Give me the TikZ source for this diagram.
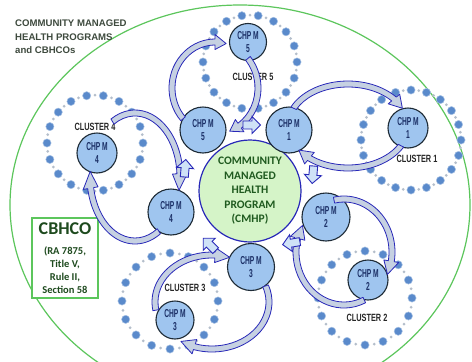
\documentclass[tikz,border=0pt]{standalone}
\usepackage{fontspec}
\setmainfont{Carlito}
\newfontfamily\titlefont{Liberation Sans}
\newfontfamily\condfont[FakeStretch=0.58]{Liberation Sans}
\newfontfamily\labfont[FakeStretch=0.7]{Liberation Sans}

\definecolor{hgreen}{HTML}{5CC65C}
\definecolor{titlegray}{HTML}{3E4A3E}
\definecolor{cmhpfill}{HTML}{D5F4C8}
\definecolor{cmhptext}{HTML}{1F5A1F}
\definecolor{navy}{HTML}{2828B8}
\definecolor{chpfill}{HTML}{9FC5EF}
\definecolor{chpline}{HTML}{1E2B36}
\definecolor{chptext}{HTML}{1B2F66}
\definecolor{bandfill}{HTML}{C6D1E2}
\definecolor{dotblue}{HTML}{5A8ACB}
\definecolor{dotrim}{HTML}{A7C1E4}
\definecolor{dotgray}{HTML}{B4BECB}
\definecolor{arrowfill}{HTML}{CFE2F7}
\definecolor{boxtext}{HTML}{1E4A1E}

\tikzset{
  chp/.style={circle, draw=chpline, line width=1.1pt, fill=chpfill, text=chptext,
    font=\condfont\bfseries\fontsize{11.5}{12.5}\selectfont, align=center, inner sep=0pt},
  clusterlbl/.style={text=black!85, font=\labfont\bfseries\fontsize{10.5}{12}\selectfont, inner sep=0pt},
  band/.style={draw=navy, line width=0.8pt, fill=bandfill, line join=round},
  arrowsm/.style={draw=navy, line width=0.9pt, fill=arrowfill, line join=miter},
}

% ring of member dots around a cluster: centre x, centre y, radius, count
\newcommand\dotring[4]{%
  \foreach \k in {1,...,#4}{%
    \fill[dotgray] ({#1+#3*cos(360/#4*(\k+0.5))},{#2+#3*sin(360/#4*(\k+0.5))}) circle (1.5);
    \filldraw[fill=dotblue, draw=dotrim, line width=0.5pt]
      ({#1+#3*cos(360/#4*\k)},{#2+#3*sin(360/#4*\k)}) circle (4.1);
  }}

% curved block arrow on an ellipse: cx, cy, rx, ry, tail angle, tip angle
\newcommand\loopband[6]{%
  \pgfmathsetmacro\hbase{#6-15}%
  \pgfmathsetmacro\rxo{#3+3}\pgfmathsetmacro\ryo{#4+3}%
  \pgfmathsetmacro\rxi{#3-3}\pgfmathsetmacro\ryi{#4-3}%
  \coordinate (bt1) at ({#1+(#3+3)*cos(#5)},{#2+(#4+3)*sin(#5)});
  \coordinate (bh1) at ({#1+(#3+7.5)*cos(\hbase)},{#2+(#4+7.5)*sin(\hbase)});
  \coordinate (btip) at ({#1+#3*cos(#6)},{#2+#4*sin(#6)});
  \coordinate (bh2) at ({#1+(#3-7.5)*cos(\hbase)},{#2+(#4-7.5)*sin(\hbase)});
  \coordinate (bt2) at ({#1+(#3-3)*cos(\hbase)},{#2+(#4-3)*sin(\hbase)});
  \draw[band] (bt1) arc[start angle=#5, end angle=\hbase, x radius=\rxo, y radius=\ryo]
    -- (bh1) -- (btip) -- (bh2) -- (bt2)
    arc[start angle=\hbase, end angle=#5, x radius=\rxi, y radius=\ryi] -- cycle;
}

% short straight block arrow: x, y, direction
\newcommand\smallarrow[3]{%
  \draw[arrowsm, shift={(#1,#2)}, rotate=#3]
    (-8,-4) -- (1,-4) -- (1,-8.5) -- (9.5,0) -- (1,8.5) -- (1,4) -- (-8,4) -- cycle;
}

\begin{document}
\begin{tikzpicture}[x=1pt,y=-1pt]
\useasboundingbox (0,0) rectangle (472,362);
\fill[white] (0,0) rectangle (472,362);

% outer boundary
\draw[hgreen, line width=1.2pt] (240,205) ellipse [x radius=230, y radius=200];

% heading
\node[anchor=north west, align=left, text=titlegray, inner sep=0pt,
  font=\titlefont\bfseries\fontsize{9.6}{13.5}\selectfont] (title) at (15,20)
  {COMMUNITY MANAGED\\HEALTH PROGRAMS\\and CBHCOs};

% legal basis box
\node[draw=hgreen, line width=1.2pt, fill=white, minimum width=66pt, minimum height=80pt,
  align=center, text=boxtext, inner sep=0pt,
  font=\bfseries\fontsize{10.5}{13}\selectfont] (cbhco) at (65,258)
  {{\fontsize{18}{20}\selectfont CBHCO}\\[7pt](RA 7875,\\Title V,\\Rule II,\\Section 58};

% member rings
\dotring{250}{62}{47}{18}
\dotring{411}{140}{50}{20}
\dotring{365}{298}{47}{16}
\dotring{170}{301}{48}{16}
\dotring{95}{143}{48}{18}

% cluster names
\node[clusterlbl] (l5) at (253,77) {CLUSTER 5};
\node[clusterlbl] (l1) at (417,159) {CLUSTER 1};
\node[clusterlbl] (l2) at (367,318) {CLUSTER 2};
\node[clusterlbl] (l3) at (185,288) {CLUSTER 3};
\node[clusterlbl] (l4) at (95,127) {CLUSTER 4};

% central programme
\node[circle, draw=navy, line width=1.2pt, fill=cmhpfill, minimum size=102pt, align=center,
  text=cmhptext, inner sep=0pt, font=\bfseries\fontsize{11.5}{14.5}\selectfont]
  (cmhp) at (250,191) {COMMUNITY\\MANAGED\\HEALTH\\PROGRAM\\(CMHP)};

% cluster heads around the programme
\node[chp, minimum size=46pt] (o5) at (203,130) {CHP M\\5};
\node[chp, minimum size=46pt] (o1) at (289,130) {CHP M\\1};
\node[chp, minimum size=48pt] (o2) at (326,217) {CHP M\\2};
\node[chp, minimum size=47pt] (o3) at (251,267) {CHP M\\3};
\node[chp, minimum size=46pt] (o4) at (171,212) {CHP M\\4};

% cluster heads inside the rings
\node[chp, minimum size=37pt] (i5) at (248,42) {CHP M\\5};
\node[chp, minimum size=40pt] (i1) at (408,128) {CHP M\\1};
\node[chp, minimum size=40pt] (i2) at (368,280) {CHP M\\2};
\node[chp, minimum size=38pt] (i3) at (175,320) {CHP M\\3};
\node[chp, minimum size=40pt] (i4) at (97,153) {CHP M\\4};

% exchange loops between each pair of heads
\loopband{215}{88}{43}{46}{138}{285}
\loopband{215}{88}{43}{46}{320}{430}
\loopband{348}{126}{60}{42}{205}{335}
\loopband{348}{126}{60}{42}{28}{145}
\loopband{344}{252}{48}{53}{258}{385}
\loopband{344}{252}{48}{53}{65}{210}
\loopband{212}{302}{57}{47}{340}{483}
\loopband{212}{302}{57}{47}{170}{288}
\loopband{135}{177}{45}{64}{240}{372}
\loopband{135}{177}{45}{64}{58}{185}

% flow between the heads
\smallarrow{251}{125}{0}
\smallarrow{313}{174}{-95}
\smallarrow{292}{243}{190}
\smallarrow{210}{245}{135}
\smallarrow{185}{169}{85}
\end{tikzpicture}
\end{document}
